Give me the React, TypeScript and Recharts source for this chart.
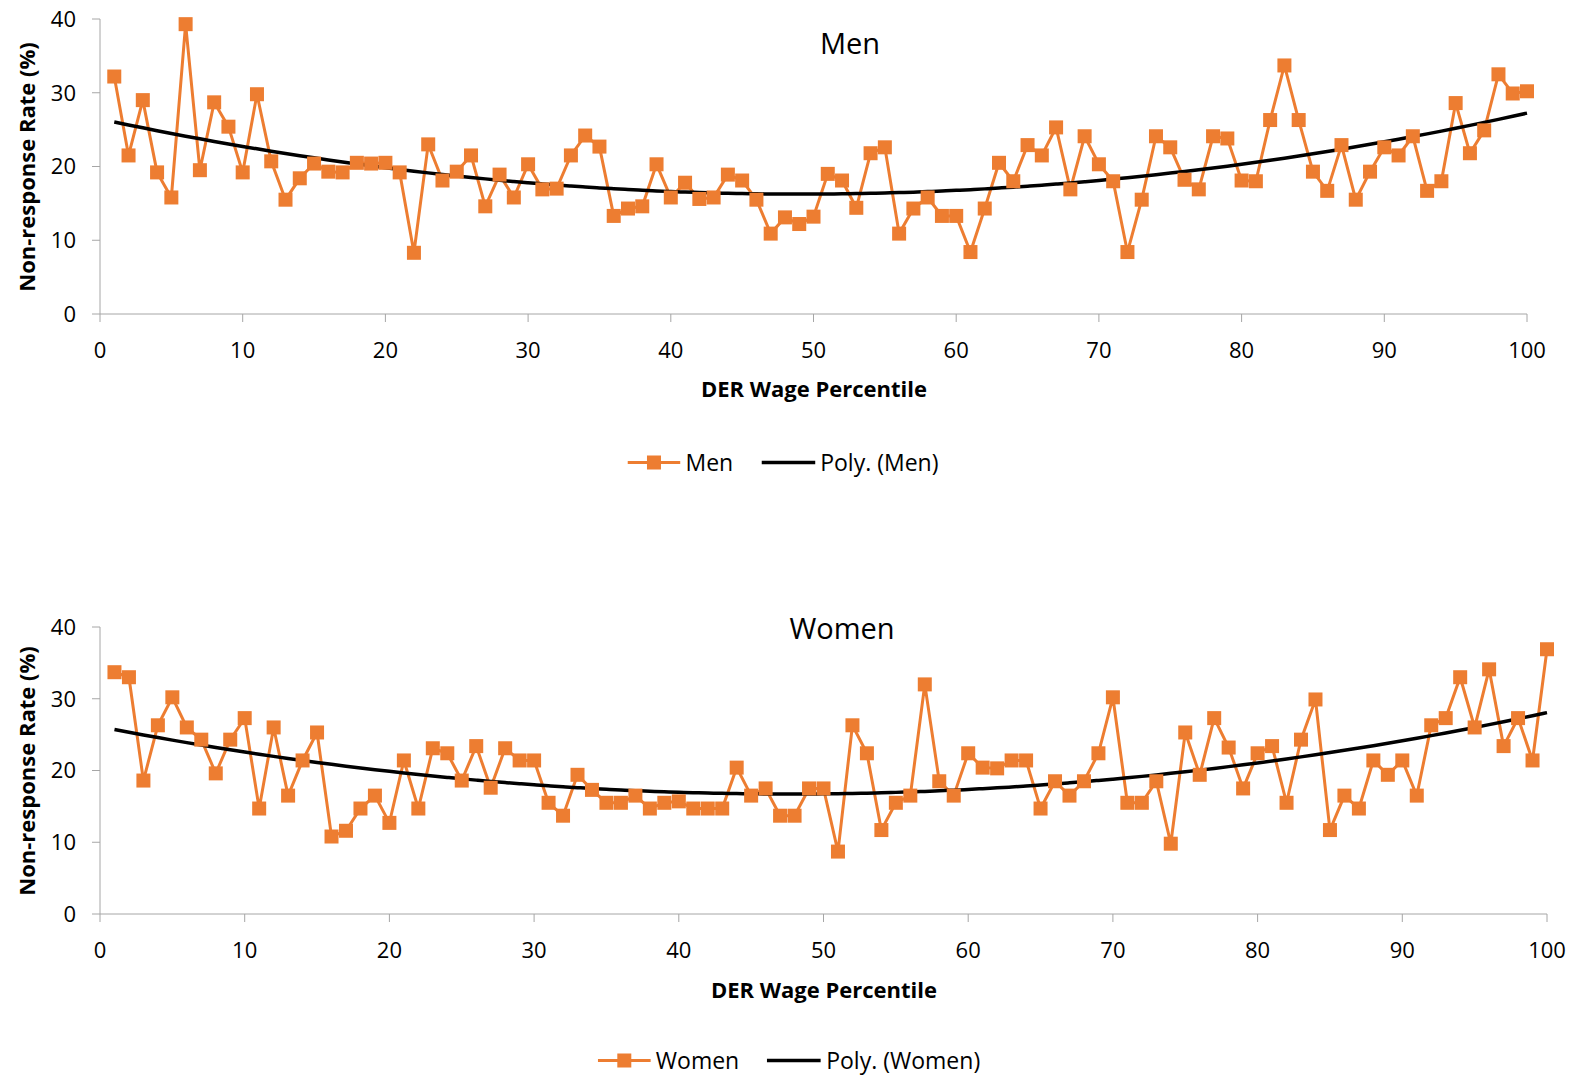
import React from 'react'
import { LineChart, Line, XAxis, YAxis } from 'recharts'

const percentiles = [
  1, 2, 3, 4, 5, 6, 7, 8, 9, 10, 11, 12, 13, 14, 15, 16, 17, 18, 19, 20,
  21, 22, 23, 24, 25, 26, 27, 28, 29, 30, 31, 32, 33, 34, 35, 36, 37, 38, 39, 40,
  41, 42, 43, 44, 45, 46, 47, 48, 49, 50, 51, 52, 53, 54, 55, 56, 57, 58, 59, 60,
  61, 62, 63, 64, 65, 66, 67, 68, 69, 70, 71, 72, 73, 74, 75, 76, 77, 78, 79, 80,
  81, 82, 83, 84, 85, 86, 87, 88, 89, 90, 91, 92, 93, 94, 95, 96, 97, 98, 99, 100,
]

const menRates = [
  32.2, 21.5, 29.0, 19.2, 15.8, 39.3, 19.5, 28.7, 25.4, 19.2,
  29.8, 20.7, 15.5, 18.4, 20.4, 19.3, 19.2, 20.5, 20.4, 20.5,
  19.2, 8.3, 23.0, 18.1, 19.3, 21.5, 14.6, 18.9, 15.8, 20.3,
  16.9, 17.0, 21.5, 24.2, 22.7, 13.3, 14.3, 14.6, 20.3, 15.8,
  17.8, 15.6, 15.8, 18.9, 18.1, 15.5, 10.9, 13.1, 12.2, 13.2,
  19.0, 18.1, 14.4, 21.8, 22.6, 10.9, 14.3, 15.8, 13.3, 13.3,
  8.4, 14.3, 20.5, 18.0, 22.9, 21.5, 25.3, 16.9, 24.1, 20.3,
  18.0, 8.4, 15.5, 24.1, 22.6, 18.2, 16.9, 24.1, 23.8, 18.1,
  18.0, 26.3, 33.7, 26.3, 19.3, 16.7, 22.9, 15.5, 19.3, 22.6,
  21.5, 24.1, 16.7, 18.0, 28.6, 21.8, 24.9, 32.5, 29.9, 30.2,
]

const womenRates = [
  33.7, 33.0, 18.6, 26.3, 30.2, 26.0, 24.3, 19.6, 24.3, 27.3,
  14.7, 26.0, 16.5, 21.4, 25.3, 10.8, 11.6, 14.7, 16.5, 12.7,
  21.4, 14.7, 23.1, 22.4, 18.6, 23.4, 17.6, 23.1, 21.4, 21.4,
  15.5, 13.7, 19.4, 17.3, 15.5, 15.5, 16.5, 14.7, 15.5, 15.7,
  14.7, 14.7, 14.7, 20.4, 16.5, 17.5, 13.7, 13.7, 17.5, 17.5,
  8.7, 26.3, 22.4, 11.7, 15.5, 16.5, 32.0, 18.5, 16.5, 22.4,
  20.4, 20.3, 21.4, 21.4, 14.7, 18.5, 16.5, 18.5, 22.4, 30.2,
  15.5, 15.5, 18.5, 9.8, 25.3, 19.4, 27.3, 23.2, 17.5, 22.4,
  23.4, 15.5, 24.3, 29.9, 11.7, 16.5, 14.7, 21.4, 19.4, 21.4,
  16.5, 26.3, 27.3, 33.0, 26.0, 34.1, 23.4, 27.3, 21.4, 36.9,
]

const xTicks = [0, 10, 20, 30, 40, 50, 60, 70, 80, 90, 100]
const yTicks = [0, 10, 20, 30, 40]

const ORANGE = '#ED7D31'
const AXIS = '#a6a6a6'
const FONT = '"Open Sans", sans-serif'

// order-2 least squares fit, like Excel's "Poly." trendline
function polyFit(xs: number[], ys: number[]) {
  let s0 = 0, s1 = 0, s2 = 0, s3 = 0, s4 = 0, t0 = 0, t1 = 0, t2 = 0
  xs.forEach((x, i) => {
    const y = ys[i]
    s0 += 1; s1 += x; s2 += x * x; s3 += x * x * x; s4 += x * x * x * x
    t0 += y; t1 += x * y; t2 += x * x * y
  })
  const m = [
    [s0, s1, s2, t0],
    [s1, s2, s3, t1],
    [s2, s3, s4, t2],
  ]
  for (let c = 0; c < 3; c++) {
    for (let r = c + 1; r < 3; r++) {
      const f = m[r][c] / m[c][c]
      for (let k = c; k < 4; k++) m[r][k] -= f * m[c][k]
    }
  }
  const coef = [0, 0, 0]
  for (let r = 2; r >= 0; r--) {
    let s = m[r][3]
    for (let k = r + 1; k < 3; k++) s -= m[r][k] * coef[k]
    coef[r] = s / m[r][r]
  }
  return (x: number) => coef[0] + coef[1] * x + coef[2] * x * x
}

function buildRows(values: number[]) {
  const fit = polyFit(percentiles, values)
  return percentiles.map((x, i) => ({ x, value: values[i], trend: fit(x) }))
}

const renderSquare = (p: any) => (
  <rect key={`sq-${p.index}`} x={p.cx - 7} y={p.cy - 7} width={14} height={14} fill={ORANGE} />
)

interface PanelProps {
  rows: { x: number; value: number; trend: number }[]
  name: string
  top: number
  margin: { top: number; right: number; bottom: number; left: number }
  titleX: number
  titleY: number
  yLabelY: number
  xLabelX: number
  xLabelY: number
  legendX: number
  legendY: number
}

function Panel({ rows, name, top, margin, titleX, titleY, yLabelY, xLabelX, xLabelY, legendX, legendY }: PanelProps) {
  const tickStyle = { fill: '#000', fontSize: 22, fontFamily: FONT }
  return (
    <>
      <div style={{ position: 'absolute', left: 0, top }}>
        <LineChart width={1574} height={390} data={rows} margin={margin}>
          <XAxis
            dataKey="x"
            type="number"
            domain={[0, 100]}
            ticks={xTicks}
            height={40}
            stroke={AXIS}
            tickSize={8}
            tickMargin={20}
            tick={tickStyle}
            interval={0}
          />
          <YAxis
            domain={[0, 40]}
            ticks={yTicks}
            width={60}
            stroke={AXIS}
            tickSize={8}
            tickMargin={16}
            tick={tickStyle}
            interval={0}
          />
          <Line
            dataKey="value"
            stroke={ORANGE}
            strokeWidth={3}
            dot={renderSquare}
            activeDot={false}
            isAnimationActive={false}
          />
          <Line
            dataKey="trend"
            type="monotone"
            stroke="#000"
            strokeWidth={3.5}
            dot={false}
            activeDot={false}
            isAnimationActive={false}
          />
        </LineChart>
      </div>
      <div style={{ position: 'absolute', left: titleX, top: titleY, transform: 'translate(-50%, -50%)', fontSize: 29, lineHeight: 1, whiteSpace: 'nowrap' }}>
        {name}
      </div>
      <div style={{ position: 'absolute', left: 26, top: yLabelY, transform: 'translate(-50%, -50%) rotate(-90deg)', fontSize: 22, lineHeight: 1, fontWeight: 700, whiteSpace: 'nowrap' }}>
        Non-response Rate (%)
      </div>
      <div style={{ position: 'absolute', left: xLabelX, top: xLabelY, transform: 'translate(-50%, -50%)', fontSize: 22, lineHeight: 1, fontWeight: 700, whiteSpace: 'nowrap' }}>
        DER Wage Percentile
      </div>
      <div style={{ position: 'absolute', left: legendX, top: legendY, transform: 'translate(-50%, -50%)', display: 'flex', alignItems: 'center', fontSize: 23, lineHeight: 1, whiteSpace: 'nowrap' }}>
        <svg width={53} height={16}>
          <line x1={0} y1={8} x2={53} y2={8} stroke={ORANGE} strokeWidth={3} />
          <rect x={19.5} y={1} width={14} height={14} fill={ORANGE} />
        </svg>
        <span style={{ marginLeft: 5 }}>{name}</span>
        <svg width={54} height={16} style={{ marginLeft: 28 }}>
          <line x1={0} y1={8} x2={54} y2={8} stroke="#000" strokeWidth={3.5} />
        </svg>
        <span style={{ marginLeft: 5 }}>Poly. ({name})</span>
      </div>
    </>
  )
}

export default function App() {
  const menRows = buildRows(menRates)
  const womenRows = buildRows(womenRates)
  return (
    <div style={{ position: 'relative', width: 1574, height: 1076, fontFamily: FONT, color: '#000', background: '#fff', overflow: 'hidden' }}>
      <style>{'html,body{margin:0;padding:0;overflow:hidden}'}</style>
      <Panel
        rows={menRows}
        name="Men"
        top={0}
        margin={{ top: 19, right: 47, bottom: 36, left: 40 }}
        titleX={850}
        titleY={42}
        yLabelY={167}
        xLabelX={814}
        xLabelY={388}
        legendX={783}
        legendY={462}
      />
      <Panel
        rows={womenRows}
        name="Women"
        top={600}
        margin={{ top: 27, right: 27, bottom: 36, left: 40 }}
        titleX={842}
        titleY={627}
        yLabelY={771}
        xLabelX={824}
        xLabelY={989}
        legendX={789}
        legendY={1060}
      />
    </div>
  )
}
